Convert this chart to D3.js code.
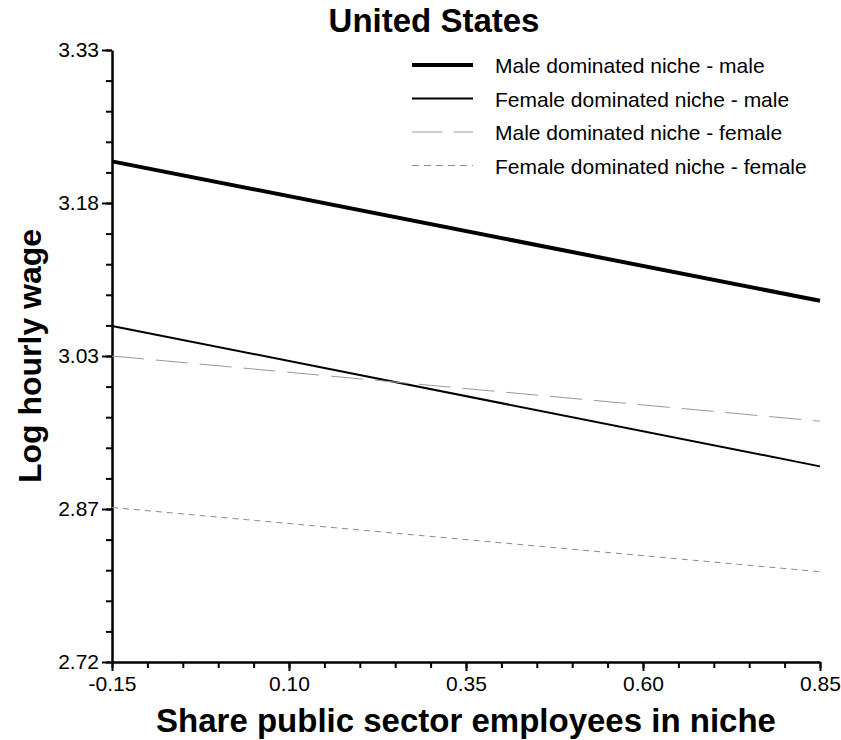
<!DOCTYPE html>
<html>
<head>
<meta charset="utf-8">
<script src="https://cdn.jsdelivr.net/npm/d3@7"></script>
<style>
  html, body { margin: 0; padding: 0; background: #fff; }
  svg { display: block; font-family: "Liberation Sans", Arial, Helvetica, sans-serif; }
</style>
</head>
<body>
<svg id="chart" width="841" height="740"></svg>
<script>
// Predicted log hourly wage by share of public sector employees in the niche
const xValues = [-0.15, 0.85];
const seriesNames = [
  "Male dominated niche - male",
  "Female dominated niche - male",
  "Male dominated niche - female",
  "Female dominated niche - female"
];
const mmValues = [3.219, 3.080];
const fmValues = [3.055, 2.915];
const mfValues = [3.025, 2.960];
const ffValues = [2.874, 2.810];

const xTicks = [-0.15, 0.10, 0.35, 0.60, 0.85];
const xTickLabels = ["-0.15", "0.10", "0.35", "0.60", "0.85"];
const yTicks = [2.72, 2.8725, 3.025, 3.1775, 3.33];
const yTickLabels = ["2.72", "2.87", "3.03", "3.18", "3.33"];

const styles = [
  { width: 4, color: "#000", dash: null },
  { width: 2, color: "#000", dash: null },
  { width: 1, color: "#9a9a9a", dash: "32,12" },
  { width: 1, color: "#8a8a8a", dash: "6,5" }
];
const series = [mmValues, fmValues, mfValues, ffValues];

const svg = d3.select("#chart");
const plotLeft = 112, plotRight = 820, plotTop = 50, plotBottom = 662;

const x = d3.scaleLinear().domain([-0.15, 0.85]).range([plotLeft, plotRight]);
const y = d3.scaleLinear().domain([2.72, 3.33]).range([plotBottom, plotTop]);

// minor ticks
const xMinor = d3.range(0, 21).map(i => -0.15 + i * 0.05);
const yMinor = d3.range(0, 21).map(i => 2.72 + i * 0.0305);

svg.append("g")
  .attr("transform", `translate(0,${plotBottom})`)
  .call(d3.axisBottom(x).tickValues(xMinor).tickSize(6).tickFormat(""))
  .call(g => g.select(".domain").remove())
  .call(g => g.selectAll("line").attr("stroke-width", 2));

svg.append("g")
  .attr("transform", `translate(${plotLeft},0)`)
  .call(d3.axisLeft(y).tickValues(yMinor).tickSize(6).tickFormat(""))
  .call(g => g.select(".domain").remove())
  .call(g => g.selectAll("line").attr("stroke-width", 2));

// major axes
const xAxis = svg.append("g")
  .attr("transform", `translate(0,${plotBottom})`)
  .call(d3.axisBottom(x).tickValues(xTicks).tickSize(9).tickSizeOuter(0).tickPadding(5)
    .tickFormat((d, i) => xTickLabels[i]));
xAxis.select(".domain").attr("stroke-width", 2.5);
xAxis.selectAll("line").attr("stroke-width", 2);
xAxis.selectAll("text").attr("font-size", 21).attr("fill", "#000")
  .attr("font-family", "Liberation Sans, Arial, sans-serif");

const yAxis = svg.append("g")
  .attr("transform", `translate(${plotLeft},0)`)
  .call(d3.axisLeft(y).tickValues(yTicks).tickSize(10).tickSizeOuter(0).tickPadding(3)
    .tickFormat((d, i) => yTickLabels[i]));
yAxis.select(".domain").attr("stroke-width", 2.5);
yAxis.selectAll("line").attr("stroke-width", 2);
yAxis.selectAll("text").attr("font-size", 21).attr("fill", "#000")
  .attr("font-family", "Liberation Sans, Arial, sans-serif");

// prediction lines
const line = d3.line().x((d, i) => x(xValues[i])).y(d => y(d));
series.forEach((vals, k) => {
  svg.append("path")
    .datum(vals)
    .attr("d", line)
    .attr("fill", "none")
    .attr("stroke", styles[k].color)
    .attr("stroke-width", styles[k].width)
    .attr("stroke-dasharray", styles[k].dash);
});

// legend
const legend = svg.append("g").attr("transform", "translate(412,65)");
seriesNames.forEach((name, k) => {
  const row = legend.append("g").attr("transform", `translate(0,${k * 33.5})`);
  row.append("line")
    .attr("x1", 0).attr("x2", 61).attr("y1", 0).attr("y2", 0)
    .attr("stroke", styles[k].color)
    .attr("stroke-width", styles[k].width)
    .attr("stroke-dasharray", k === 2 ? "30,12" : k === 3 ? "7,5" : null);
  row.append("text")
    .attr("x", 83).attr("y", 8)
    .attr("font-size", 21)
    .attr("fill", "#000")
    .text(name);
});

// titles
svg.append("text")
  .attr("x", 434).attr("y", 32)
  .attr("text-anchor", "middle")
  .attr("font-size", 33).attr("font-weight", "bold")
  .text("United States");

svg.append("text")
  .attr("x", (plotLeft + plotRight) / 2).attr("y", 732)
  .attr("text-anchor", "middle")
  .attr("font-size", 33).attr("font-weight", "bold")
  .text("Share public sector employees in niche");

svg.append("text")
  .attr("transform", `translate(41,${(plotTop + plotBottom) / 2}) rotate(-90)`)
  .attr("text-anchor", "middle")
  .attr("font-size", 32).attr("font-weight", "bold")
  .text("Log hourly wage");
</script>
</body>
</html>
